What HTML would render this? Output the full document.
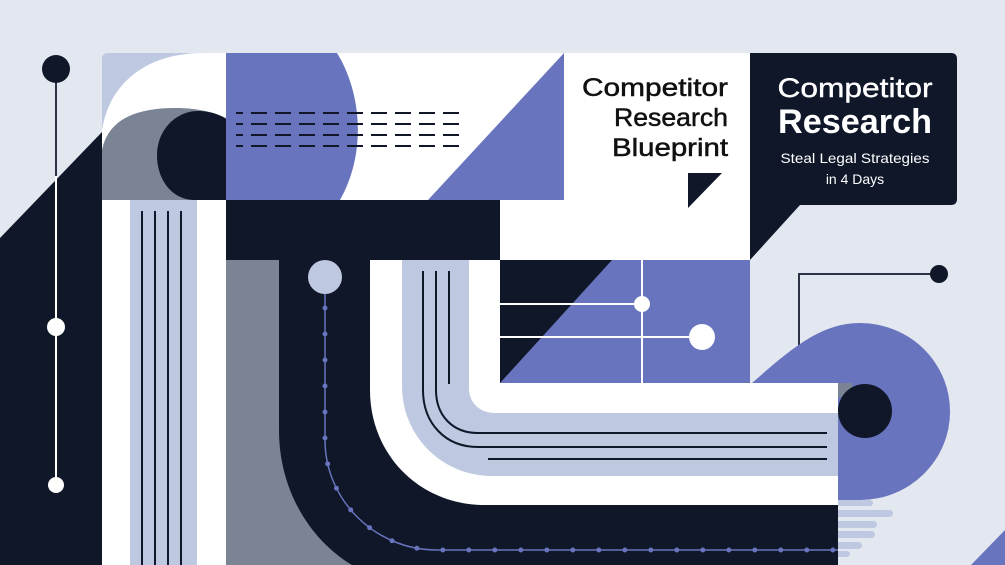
<!DOCTYPE html>
<html><head><meta charset="utf-8"><style>
html,body{margin:0;padding:0;background:#e3e7f0;}
svg{display:block;}
text{font-family:"Liberation Sans",sans-serif;}
</style></head><body>
<svg width="1005" height="565" viewBox="0 0 1005 565" xmlns="http://www.w3.org/2000/svg">
<rect width="1005" height="565" fill="#e3e7f0"/>
<!-- left navy diagonal -->
<polygon points="0,238 102,132 102,565 0,565" fill="#0f1729"/>
<line x1="56" y1="75" x2="56" y2="176" stroke="#2a3243" stroke-width="2"/>
<line x1="56" y1="176" x2="56" y2="485" stroke="#ffffff" stroke-width="2"/>
<circle cx="56" cy="69" r="14" fill="#0f1729"/>
<circle cx="56" cy="327" r="9" fill="#fff"/>
<circle cx="56" cy="485" r="8" fill="#fff"/>

<!-- top-left box -->
<path d="M108,53 L226,53 L226,200 L102,200 L102,59 Q102,53 108,53 Z" fill="#bec9e1"/>
<path d="M102,200 L102,130 C110,80 150,53 203,53 L226,53 L226,200 Z" fill="#ffffff"/>
<path d="M102,200 L102,150 C108,120 135,108 175,108 C200,108 215,113 226,118 L226,200 Z" fill="#7a8494"/>
<path d="M226,200 L195,200 C172,200 157,180 157,155 C157,130 176,111 198,111 C212,111 222,116 226,119 Z" fill="#0f1729"/>

<!-- top middle white -->
<rect x="226" y="53" width="338" height="147" fill="#ffffff"/>
<path d="M226,53 L337,53 C360,90 368,150 340,200 L226,200 Z" fill="#6874bd"/>
<g stroke="#0f1729" stroke-width="2" stroke-dasharray="16 8" stroke-dashoffset="9">
<line x1="236" y1="113" x2="466" y2="113"/>
<line x1="236" y1="124" x2="466" y2="124"/>
<line x1="236" y1="135" x2="466" y2="135"/>
<line x1="236" y1="146" x2="466" y2="146"/>
</g>
<polygon points="428,200 564,53 564,200" fill="#6874bd"/>

<!-- left column area -->
<rect x="102" y="200" width="124" height="365" fill="#ffffff"/>
<rect x="130" y="200" width="67" height="365" fill="#bec9e1"/>
<g stroke="#0f1729" stroke-width="2">
<line x1="142" y1="211" x2="142" y2="565"/><line x1="155" y1="211" x2="155" y2="565"/>
<line x1="168" y1="211" x2="168" y2="565"/><line x1="181" y1="211" x2="181" y2="565"/>
</g>

<!-- navy band -->
<rect x="226" y="200" width="274" height="60" fill="#0f1729"/>
<rect x="500" y="200" width="64" height="60" fill="#ffffff"/>
<!-- text white panel -->
<rect x="564" y="53" width="186" height="207" fill="#ffffff"/>
<text x="728" y="96" font-size="25" text-anchor="end" fill="#111" stroke="#111" stroke-width="0.5" textLength="146" lengthAdjust="spacingAndGlyphs">Competitor</text>
<text x="728" y="126" font-size="25" text-anchor="end" fill="#111" stroke="#111" stroke-width="0.5" textLength="114" lengthAdjust="spacingAndGlyphs">Research</text>
<text x="728" y="156" font-size="25" text-anchor="end" fill="#111" stroke="#111" stroke-width="0.5" textLength="116" lengthAdjust="spacingAndGlyphs">Blueprint</text>
<polygon points="688,173 722,173 688,208" fill="#0f1729"/>

<!-- navy right panel -->
<path d="M750,53 L951,53 Q957,53 957,59 L957,199 Q957,205 951,205 L800,205 L750,260 Z" fill="#0f1729"/>
<text x="855" y="97" font-size="27" text-anchor="middle" fill="#fff" stroke="#fff" stroke-width="0.4" textLength="155" lengthAdjust="spacingAndGlyphs">Competitor</text>
<text x="855" y="133" font-size="34" font-weight="bold" text-anchor="middle" fill="#fff" textLength="154" lengthAdjust="spacingAndGlyphs">Research</text>
<text x="855" y="163" font-size="14" text-anchor="middle" fill="#fff" textLength="149" lengthAdjust="spacingAndGlyphs">Steal Legal Strategies</text>
<text x="855" y="184" font-size="14" text-anchor="middle" fill="#fff">in 4 Days</text>

<!-- connector right -->
<polyline points="799,345 799,274 939,274" fill="none" stroke="#2a3243" stroke-width="2"/>
<circle cx="939" cy="274" r="9" fill="#0f1729"/>
<!-- periwinkle circle shape -->
<path d="M752,383 C790,350 820,323 860,323 A90 88.5 0 1 1 860,500 L838,500 L838,383 Z" fill="#6874bd"/>
<rect x="838" y="383" width="14" height="14" fill="#7a8494"/>
<circle cx="865" cy="411" r="27" fill="#0f1729"/>
<g fill="#bec9e1">
<rect x="835" y="500" width="38" height="6" rx="3"/>
<rect x="835" y="510" width="58" height="7" rx="3.5"/>
<rect x="835" y="521" width="42" height="7" rx="3.5"/>
<rect x="835" y="531" width="40" height="7" rx="3.5"/>
<rect x="835" y="542" width="27" height="7" rx="3.5"/>
<rect x="835" y="551" width="15" height="6" rx="3"/>
</g>
<polygon points="1005,530 1005,565 971,565" fill="#6874bd"/>

<!-- lower middle -->
<path d="M226,260 L750,260 L750,383 L838,383 L838,565 L226,565 Z" fill="#0f1729"/>
<path d="M226,260 L279,260 L279,430 C279,490 310,540 352,565 L226,565 Z" fill="#7a8494"/>
<path d="M370,260 L750,260 L750,383 L838,383 L838,505 L485,505 C420,505 370,455 370,390 Z" fill="#ffffff"/>
<path d="M402,260 L469,260 L469,388 C469,403 480,413 495,413 L838,413 L838,476 L492,476 C442,476 402,436 402,386 Z" fill="#bec9e1"/>
<g stroke="#0f1729" stroke-width="2" fill="none">
<path d="M423,271 L423,390 C423,423 445,447 478,447 L827,447"/>
<path d="M436,271 L436,390 C436,415 452,433 478,433 L827,433"/>
<line x1="449" y1="271" x2="449" y2="384"/>
<line x1="488" y1="459" x2="827" y2="459"/>
</g>
<!-- dotted connector -->
<path d="M325,294 L325,440 C325,500 375,550 437,550 L838,550" fill="none" stroke="#6874bd" stroke-width="1.5"/>
<path d="M325,308 L325,440 C325,500 375,550 437,550 L838,550" fill="none" stroke="#6874bd" stroke-width="5" stroke-linecap="round" stroke-dasharray="0 26"/>
<circle cx="325" cy="277" r="17" fill="#bec9e1"/>

<!-- grid -->
<rect x="500" y="260" width="250" height="123" fill="#6874bd"/>
<polygon points="500,260 612,260 500,383" fill="#0f1729"/>
<g stroke="#ffffff" stroke-width="2">
<line x1="642" y1="260" x2="642" y2="383"/>
<line x1="500" y1="304" x2="642" y2="304"/>
<line x1="500" y1="337" x2="702" y2="337"/>
</g>
<circle cx="642" cy="304" r="8" fill="#fff"/>
<circle cx="702" cy="337" r="13" fill="#fff"/>
</svg>
</body></html>
